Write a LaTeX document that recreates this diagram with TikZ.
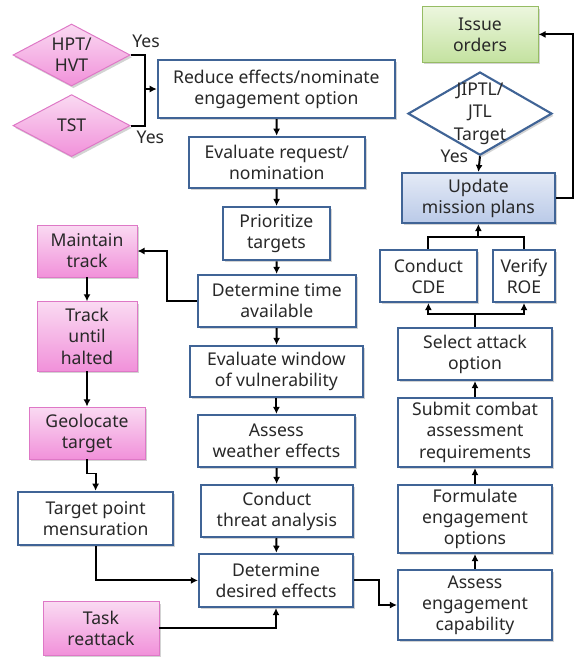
\documentclass[tikz,border=0pt]{standalone}
\usepackage{fontspec}
\setmainfont{Noto Sans}
\usetikzlibrary{shapes.geometric, arrows.meta, shadows}
\definecolor{boxblue}{RGB}{64, 100, 150}
\definecolor{textgray}{RGB}{40, 40, 40}
\definecolor{pinktop}{RGB}{250, 218, 242}
\definecolor{pinkbot}{RGB}{241, 145, 218}
\definecolor{pinkline}{RGB}{222, 120, 198}
\definecolor{greentop}{RGB}{236, 246, 222}
\definecolor{greenbot}{RGB}{196, 226, 160}
\definecolor{greenline}{RGB}{150, 188, 100}
\definecolor{bluetop}{RGB}{228, 234, 246}
\definecolor{bluebot}{RGB}{186, 202, 232}

\begin{document}
\begin{tikzpicture}[
  every node/.style={font=\fontsize{12.5}{15}\selectfont, text=textgray},
  box/.style={draw=boxblue, line width=1.5pt, fill=white, align=center, inner sep=2pt,
    drop shadow={shadow xshift=1.3pt, shadow yshift=-1.6pt, opacity=0.35}},
  pinkbox/.style={box, draw=pinkline, line width=0.7pt, top color=pinktop, bottom color=pinkbot},
  greenbox/.style={box, draw=greenline, line width=0.7pt, top color=greentop, bottom color=greenbot},
  bluebox/.style={box, top color=bluetop, bottom color=bluebot},
  decision/.style={diamond, draw=boxblue, line width=1.5pt, fill=white, inner sep=0pt,
    drop shadow={shadow xshift=1.3pt, shadow yshift=-1.6pt, opacity=0.35}},
  pinkdecision/.style={decision, draw=pinkline, line width=0.7pt, top color=pinktop, bottom color=pinkbot},
  conn/.style={-{Latex[length=5pt, width=5pt]}, line width=1.4pt},
  plain/.style={line width=1.4pt}
]
  \useasboundingbox (0,0) rectangle (14.5,-16.5);

  % Target type decisions
  \node[pinkdecision, minimum width=2.93cm, minimum height=1.55cm] (hpt) at (1.79,-1.375) {};
  \node[align=center] (hpttxt) at (hpt) {HPT/\\HVT};
  \node[pinkdecision, minimum width=2.93cm, minimum height=1.55cm] (tst) at (1.79,-3.14) {};
  \node (tsttxt) at (tst) {TST};
  \node (yesa) at (3.65,-1.025) {Yes};
  \node (yesb) at (3.76,-3.44) {Yes};

  % Main column
  \node[box, minimum width=5.93cm, minimum height=1.45cm] (reduce) at (6.91,-2.225) {Reduce effects/nominate\\engagement option};
  \node[box, minimum width=4.4cm, minimum height=1.28cm] (evalreq) at (6.92,-4.06) {Evaluate request/\\nomination};
  \node[box, minimum width=2.68cm, minimum height=1.33cm] (prio) at (6.91,-5.84) {Prioritize\\targets};
  \node[box, minimum width=3.95cm, minimum height=1.3cm] (dettime) at (6.92,-7.525) {Determine time\\available};
  \node[box, minimum width=4.33cm, minimum height=1.28cm] (evalwin) at (6.91,-9.29) {Evaluate window\\of vulnerability};
  \node[box, minimum width=3.93cm, minimum height=1.3cm] (weather) at (6.91,-11.025) {Assess\\weather effects};
  \node[box, minimum width=3.8cm, minimum height=1.3cm] (threat) at (6.92,-12.775) {Conduct\\threat analysis};
  \node[box, minimum width=3.85cm, minimum height=1.33cm] (desired) at (6.9,-14.51) {Determine\\desired effects};

  % Tracking column
  \node[pinkbox, minimum width=2.5cm, minimum height=1.3cm] (maintain) at (2.175,-6.275) {Maintain\\track};
  \node[pinkbox, minimum width=2.5cm, minimum height=1.73cm] (track) at (2.175,-8.41) {Track\\until\\halted};
  \node[pinkbox, minimum width=2.9cm, minimum height=1.3cm] (geoloc) at (2.175,-10.825) {Geolocate\\target};
  \node[box, minimum width=3.88cm, minimum height=1.33cm] (tpm) at (2.39,-12.96) {Target point\\mensuration};
  \node[pinkbox, minimum width=2.9cm, minimum height=1.33cm] (reattack) at (2.525,-15.71) {Task\\reattack};

  % Engagement column
  \node[greenbox, minimum width=2.9cm, minimum height=1.38cm] (issue) at (12.0,-0.86) {Issue\\orders};
  \node[decision, minimum width=3.6cm, minimum height=2.08cm] (jiptl) at (12.0,-2.84) {};
  \node[align=center, font=\fontsize{12.5}{16}\selectfont] (jiptltxt) at (jiptl) {JIPTL/\\JTL\\Target};
  \node (yesc) at (11.36,-3.92) {Yes};
  \node[bluebox, minimum width=3.83cm, minimum height=1.25cm] (update) at (11.96,-4.95) {Update\\mission plans};
  \node[box, minimum width=2.43cm, minimum height=1.3cm] (cde) at (10.71,-6.9) {Conduct\\CDE};
  \node[box, minimum width=1.55cm, minimum height=1.3cm] (roe) at (13.1,-6.9) {Verify\\ROE};
  \node[box, minimum width=3.85cm, minimum height=1.3cm] (select) at (11.875,-8.85) {Select attack\\option};
  \node[box, minimum width=3.85cm, minimum height=1.73cm] (submit) at (11.875,-10.81) {Submit combat\\assessment\\requirements};
  \node[box, minimum width=3.85cm, minimum height=1.7cm] (formulate) at (11.875,-12.975) {Formulate\\engagement\\options};
  \node[box, minimum width=3.85cm, minimum height=1.75cm] (assesseng) at (11.875,-15.125) {Assess\\engagement\\capability};

  % Connectors
  \coordinate (join) at (3.625,-2.225);
  \draw[plain] (hpt.east) -| (join) |- (tst.east);
  \draw[conn] (join) -- (reduce.west);
  \draw[conn] (reduce) -- (evalreq);
  \draw[conn] (evalreq) -- (prio);
  \draw[conn] (prio) -- (dettime);
  \draw[conn] (dettime) -- (evalwin);
  \draw[conn] (evalwin) -- (weather);
  \draw[conn] (weather) -- (threat);
  \draw[conn] (threat) -- (desired);

  \draw[conn] (dettime.west) -- ++(-0.75,0) |- (maintain.east);
  \draw[conn] (maintain) -- (track);
  \draw[conn] (track) -- (geoloc);
  \draw[conn] (geoloc.south) -- ++(0,-0.35) -| (tpm.north);
  \draw[conn] (tpm.south) |- (desired.west);
  \draw[conn] (reattack.east) -| (desired.south);
  \draw[conn] (desired.east) -- ++(0.63,0) |- (assesseng.west);

  \draw[conn] (assesseng) -- (formulate);
  \draw[conn] (formulate) -- (submit);
  \draw[conn] (submit) -- (select);
  \draw[plain] (select.north) -- ++(0,0.325) coordinate (split);
  \draw[conn] (split) -| (cde.south);
  \draw[conn] (split) -| (roe.south);
  \draw[plain] (cde.north) -- ++(0,0.3) coordinate (merge) -| (roe.north);
  \draw[conn] (merge -| update.south) -- (update.south);
  \draw[conn] (jiptl.south) -- (update.north);
  \draw[conn] (update.east) -- ++(0.425,0) |- (issue.east);
\end{tikzpicture}
\end{document}
